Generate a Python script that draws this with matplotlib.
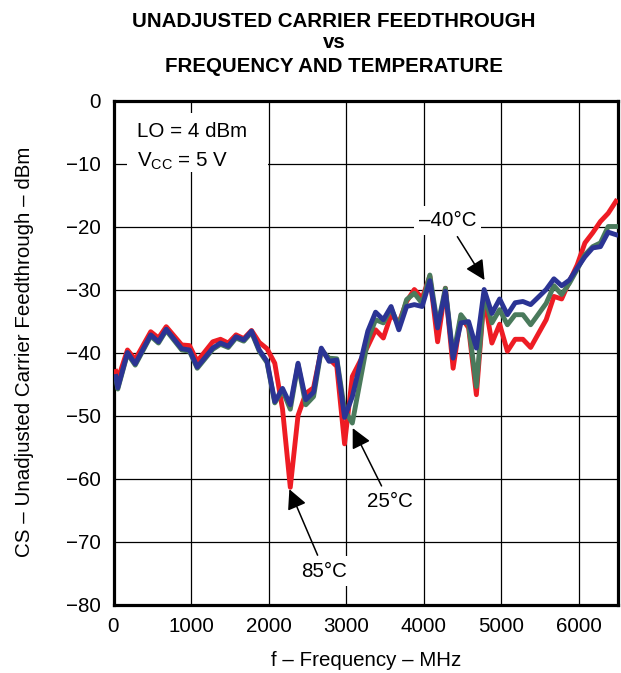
import matplotlib
matplotlib.use('Agg')
import matplotlib.pyplot as plt
from matplotlib.patches import Rectangle

plt.rcParams['font.family'] = ['Liberation Sans', 'DejaVu Sans']
plt.rcParams['mathtext.default'] = 'regular'

# frequency points (MHz)
freq = [30, 55, 180, 280, 480, 580, 680, 880, 980, 1080,
        1280, 1380, 1480, 1580, 1680, 1780, 1880, 1980, 2080, 2180,
        2280, 2380, 2480, 2580, 2680, 2780, 2880, 2980, 3080, 3280,
        3380, 3480, 3580, 3680, 3780, 3880, 3980, 4080, 4180, 4280,
        4380, 4480, 4580, 4680, 4780, 4880, 4980, 5080, 5180, 5280,
        5380, 5580, 5680, 5780, 5880, 5980, 6080, 6180, 6280, 6380, 6480]

# carrier feedthrough (dBm) at 85, 25 and -40 C
cs_85 = [-43, -44.3, -39.6, -41.1, -36.7, -37.7, -35.9, -38.8, -38.9, -41.4,
         -38.3, -37.9, -38.5, -37.2, -37.8, -36.5, -38.4, -39.4, -41.7, -49,
         -61.4, -50, -46.5, -45.6, -39.6, -41, -42.2, -54.5, -43.8, -39,
         -36.4, -37.7, -34, -35.3, -31.9, -30, -31.4, -27.9, -38.3, -29.8,
         -42.5, -34.3, -36.1, -46.7, -31.1, -38.5, -35.5, -39.8, -37.9, -37.9,
         -39.2, -34.8, -31.1, -31.5, -28.7, -26.1, -22.6, -21, -19.2, -17.9, -16]
cs_25 = [-44, -45.8, -40.2, -42, -37.4, -38.5, -36.5, -39.6, -39.8, -42.5,
         -39.5, -38.7, -39.2, -37.7, -38.2, -36.8, -39.8, -41.6, -48, -46,
         -49, -41.9, -48.3, -47, -39.6, -40.9, -41, -49.1, -51.2, -38,
         -34.8, -35.3, -33, -35.8, -31.6, -30.6, -32.2, -27.7, -35.8, -29.8,
         -40.6, -34, -35.6, -45.4, -30.8, -35.3, -33.2, -35.6, -34, -34,
         -35.6, -32.2, -29.4, -30.8, -29, -26.8, -24.5, -23.2, -22.6, -20, -20]
cs_m40 = [-43.8, -45.6, -40, -41.8, -37.2, -38.3, -36.3, -39.4, -39.6, -42.3,
          -39.3, -38.5, -39, -37.5, -38, -36.6, -39.6, -41.4, -47.8, -45.7,
          -48.3, -41.7, -47.5, -46.3, -39.3, -41.4, -41.2, -50.3, -47, -36.6,
          -33.6, -34.8, -32.7, -36.4, -32.7, -32.4, -32.7, -28.6, -36.1, -30.3,
          -40.9, -35.3, -35.1, -39.3, -30, -33.8, -31.5, -34, -32.1, -31.9,
          -32.4, -30, -28.3, -29.4, -28.5, -26.6, -24.8, -23.4, -23.2, -20.9, -21.3]

x_ticks = [0, 1000, 2000, 3000, 4000, 5000, 6000]
y_ticks = [0, -10, -20, -30, -40, -50, -60, -70, -80]

W, H = 621, 673
fs = 14.8

fig = plt.figure(figsize=(W / 100, H / 100), dpi=100)
ax = fig.add_axes([113.5 / W, 1 - 604.5 / H, 504 / W, 504 / H])

ax.plot(freq, cs_85, color='#ee1c24', lw=3.5, zorder=3)
ax.plot(freq, cs_25, color='#4a7a5c', lw=3.5, zorder=4)
ax.plot(freq, cs_m40, color='#2b3494', lw=3.5, zorder=5)

ax.set_xlim(0, 6500)
ax.set_ylim(-80, 0)
ax.set_xticks(x_ticks)
ax.set_yticks(y_ticks)
ax.tick_params(length=0, labelsize=fs, pad=9)
ax.grid(True, color='black', lw=0.9)
ax.set_axisbelow(True)
for sp in ax.spines.values():
    sp.set_linewidth(2.3)

# white area behind the conditions text
ax.add_patch(Rectangle((0.027, 0.858), 0.28, 0.117, transform=ax.transAxes,
                       facecolor='white', edgecolor='none', zorder=2))
ax.text(0.047, 0.928, 'LO = 4 dBm', transform=ax.transAxes, fontsize=fs,
        va='baseline', zorder=6)
ax.text(0.047, 0.868, 'V$_{CC}$ = 5 V', transform=ax.transAxes, fontsize=fs,
        va='baseline', zorder=6)

arrow = dict(arrowstyle='-|>', color='black', lw=1.1, mutation_scale=30,
             shrinkA=1, shrinkB=0)
box = dict(boxstyle='square,pad=0.25', fc='white', ec='none')
ax.annotate('85°C', xy=(2268, -61.7), xytext=(2720, -74.7), fontsize=fs,
            ha='center', va='center', bbox=box, arrowprops=arrow, zorder=6)
ax.annotate('25°C', xy=(3085, -52), xytext=(3559, -63.7), fontsize=fs,
            ha='center', va='center', bbox=box, arrowprops=arrow, zorder=6)
ax.annotate('–40°C', xy=(4785, -28.5), xytext=(4307, -19.1), fontsize=fs,
            ha='center', va='center', bbox=box, arrowprops=arrow, zorder=6)

tx = 334 / W
fig.text(tx, 1 - 27 / H, 'UNADJUSTED CARRIER FEEDTHROUGH', ha='center',
         va='baseline', fontsize=fs, fontweight='bold')
fig.text(tx, 1 - 48 / H, 'vs', ha='center', va='baseline', fontsize=fs,
         fontweight='bold')
fig.text(tx, 1 - 72 / H, 'FREQUENCY AND TEMPERATURE', ha='center',
         va='baseline', fontsize=fs, fontweight='bold')

fig.text(366 / W, 1 - 661 / H, 'f – Frequency – MHz', ha='center',
         va='center', fontsize=fs)
fig.text(25 / W, 1 - 352 / H, 'CS – Unadjusted Carrier Feedthrough – dBm',
         ha='center', va='center', rotation=90, fontsize=fs)

fig.savefig('out.png', dpi=100)
